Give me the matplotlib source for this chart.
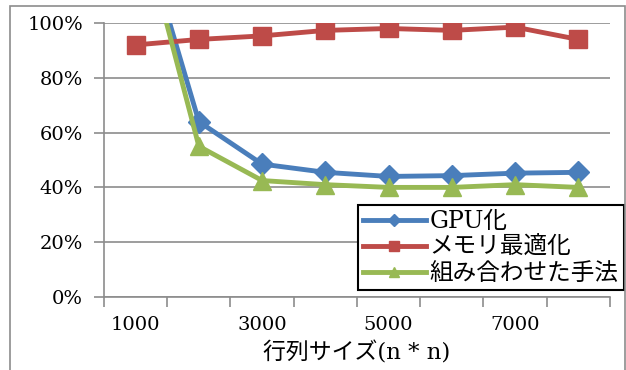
import matplotlib
matplotlib.use("Agg")
import matplotlib.pyplot as plt
from matplotlib.patches import Rectangle
from matplotlib.ticker import FixedLocator, PercentFormatter

# datos
tamanos = [1000, 2000, 3000, 4000, 5000, 6000, 7000, 8000]
gpu = [1.42, 0.64, 0.485, 0.455, 0.44, 0.443, 0.452, 0.455]
memoria = [0.92, 0.94, 0.953, 0.973, 0.98, 0.973, 0.985, 0.94]
combinado = [1.43, 0.55, 0.425, 0.41, 0.40, 0.40, 0.41, 0.40]
etiquetas = ["GPU化", "メモリ最適化", "組み合わせた手法"]
titulo_x = "行列サイズ(n * n)"

plt.rcParams['font.family'] = ['DejaVu Serif', 'Noto Sans CJK JP']

W, H = 626, 370
fig = plt.figure(figsize=(W / 100, H / 100), dpi=100)

# borde exterior del area del grafico
fig.patches.append(Rectangle((10 / W, -0.05), 615 / W, 1.05 - 6 / H,
                             transform=fig.transFigure, fill=False,
                             edgecolor="#8c8c8c", lw=1.2))

ax = fig.add_axes([104 / W, (H - 297) / H, (610 - 104) / W, (297 - 23) / H])

x = list(range(len(tamanos)))
estilos = [
    (gpu, "#4A7EBB", "D", 11),
    (memoria, "#BE4B48", "s", 13),
    (combinado, "#98B954", "^", 13),
]
for (serie, color, marca, tam), etiqueta in zip(estilos, etiquetas):
    ax.plot(x, serie, color=color, lw=3.5, marker=marca, markersize=tam,
            label=etiqueta, zorder=3)

ax.set_xlim(-0.5, len(tamanos) - 0.5)
ax.set_ylim(0, 1.0)
ax.set_yticks([0, 0.2, 0.4, 0.6, 0.8, 1.0])
ax.yaxis.set_major_formatter(PercentFormatter(1.0, decimals=0))
ax.grid(axis="y", color="#8c8c8c", lw=1.2)
ax.set_axisbelow(True)

ax.set_xticks(x[::2])
ax.set_xticklabels([str(t) for t in tamanos[::2]])
ax.xaxis.set_minor_locator(FixedLocator([i - 0.5 for i in range(len(tamanos) + 1)]))
ax.tick_params(axis="x", which="major", length=0, pad=14, labelsize=14)
ax.tick_params(axis="x", which="minor", length=7, width=1.2, color="#8c8c8c")
ax.tick_params(axis="y", length=7, width=1.2, color="#8c8c8c", labelsize=14, pad=8)

for lado in ["top", "right"]:
    ax.spines[lado].set_visible(False)
for lado in ["left", "bottom"]:
    ax.spines[lado].set_color("#8c8c8c")
    ax.spines[lado].set_linewidth(1.2)

ax.set_xlabel(titulo_x, fontsize=16.5, labelpad=5)

leg = ax.legend(loc="lower left", bbox_to_anchor=(358 / W, (H - 290) / H),
                bbox_transform=fig.transFigure, borderaxespad=0,
                fancybox=False, edgecolor="black", framealpha=1,
                fontsize=17, handlelength=2.65, handletextpad=0.15,
                labelspacing=0.12, borderpad=0.22, markerscale=0.6)
leg.get_frame().set_linewidth(1.5)

fig.savefig("out.png", dpi=100)
